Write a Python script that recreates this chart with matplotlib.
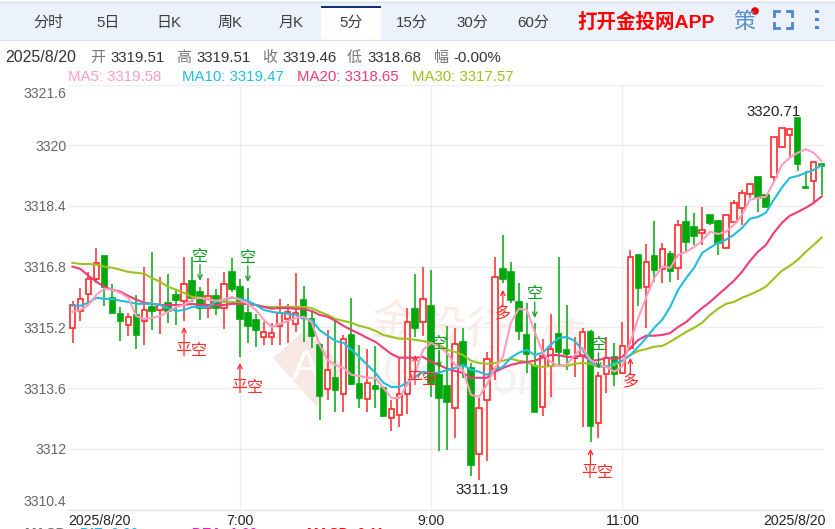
import matplotlib
matplotlib.use("Agg")
import matplotlib.pyplot as plt
from matplotlib.patches import Rectangle, Polygon, Circle
from matplotlib.transforms import ScaledTranslation

plt.rcParams['font.family'] = ['Liberation Sans', 'Noto Sans CJK SC', 'DejaVu Sans']

# 5 minute bars
opens = [3315.19, 3315.63, 3316.08, 3316.48, 3317.08, 3315.98, 3315.56, 3315.27, 3315.53, 3315.37,
         3315.74, 3315.66, 3315.85, 3316.06, 3315.90, 3316.43, 3316.14, 3315.71, 3316.03, 3315.71,
         3316.66, 3316.27, 3315.58, 3315.40, 3314.95, 3314.95, 3315.24, 3315.42, 3315.29, 3315.93,
         3315.42, 3314.74, 3313.58, 3313.87, 3313.45, 3315.00, 3313.71, 3313.32, 3313.66, 3313.61,
         3312.82, 3312.90, 3313.45, 3315.69, 3315.34, 3315.77, 3313.95, 3313.66, 3313.08, 3314.82,
         3314.13, 3311.87, 3313.29, 3314.11, 3316.74, 3316.66, 3315.87, 3315.00, 3314.18, 3313.11,
         3314.18, 3315.03, 3314.61, 3314.39, 3314.45, 3315.08, 3312.68, 3313.97, 3314.42, 3314.00,
         3314.66, 3317.11, 3316.27, 3317.08, 3316.74, 3317.14, 3316.77, 3317.98, 3317.85, 3317.69,
         3318.16, 3318.01, 3317.30, 3317.98, 3318.35, 3318.72, 3319.17, 3318.69, 3319.17, 3319.96,
         3320.27, 3320.71, 3318.90, 3319.06, 3319.51]
closes = [3315.79, 3315.95, 3316.48, 3316.90, 3316.27, 3315.58, 3315.37, 3315.48, 3315.00, 3315.66,
          3315.63, 3315.79, 3315.63, 3315.93, 3316.35, 3315.98, 3315.71, 3316.03, 3315.71, 3316.35,
          3316.22, 3315.42, 3315.24, 3315.13, 3315.08, 3315.05, 3315.58, 3315.61, 3315.58, 3315.48,
          3314.98, 3313.39, 3314.08, 3313.55, 3314.90, 3313.71, 3313.34, 3313.74, 3313.58, 3312.87,
          3313.05, 3313.45, 3315.34, 3315.19, 3315.95, 3313.74, 3313.34, 3313.24, 3314.76, 3314.21,
          3311.58, 3313.08, 3314.37, 3316.53, 3316.48, 3315.93, 3315.11, 3314.50, 3312.97, 3314.45,
          3314.63, 3314.55, 3314.50, 3314.42, 3315.08, 3312.60, 3313.92, 3314.40, 3313.97, 3314.71,
          3317.05, 3316.24, 3316.93, 3316.72, 3317.27, 3316.69, 3317.90, 3317.45, 3317.61, 3317.77,
          3317.95, 3317.43, 3318.16, 3318.48, 3318.74, 3318.98, 3318.61, 3318.38, 3320.22, 3320.46,
          3320.43, 3319.51, 3318.88, 3319.56, 3319.46]
highs = [3315.90, 3316.24, 3316.66, 3317.30, 3317.08, 3316.35, 3315.74, 3315.58, 3316.06, 3316.80,
         3317.19, 3316.53, 3316.61, 3316.19, 3317.05, 3317.05, 3316.27, 3316.50, 3316.22, 3316.66,
         3317.03, 3316.48, 3316.24, 3315.56, 3315.34, 3315.32, 3315.95, 3315.82, 3316.64, 3316.29,
         3315.66, 3314.79, 3315.13, 3315.45, 3315.00, 3315.98, 3314.74, 3314.63, 3314.71, 3313.63,
         3313.29, 3314.40, 3315.71, 3316.61, 3316.80, 3316.72, 3314.61, 3315.24, 3315.19, 3315.19,
         3314.26, 3313.34, 3314.55, 3317.05, 3317.64, 3316.93, 3316.37, 3315.85, 3315.32, 3314.90,
         3315.56, 3317.05, 3315.79, 3314.95, 3315.19, 3315.13, 3314.03, 3314.95, 3314.79, 3315.34,
         3317.24, 3317.11, 3317.40, 3318.00, 3317.43, 3317.22, 3318.03, 3318.40, 3318.22, 3318.38,
         3318.16, 3318.03, 3318.16, 3318.56, 3318.82, 3318.98, 3319.17, 3318.69, 3320.22, 3320.46,
         3320.43, 3320.71, 3319.32, 3319.56, 3319.51]
lows = [3314.79, 3315.37, 3315.79, 3316.37, 3315.77, 3315.58, 3314.84, 3314.98, 3314.63, 3314.74,
        3315.13, 3315.03, 3315.32, 3315.27, 3315.37, 3315.87, 3315.40, 3315.45, 3315.53, 3315.16,
        3316.14, 3314.42, 3314.79, 3314.69, 3314.74, 3314.74, 3314.74, 3314.79, 3315.08, 3314.82,
        3314.66, 3312.76, 3313.29, 3312.97, 3312.97, 3313.69, 3313.08, 3312.97, 3313.08, 3312.84,
        3312.47, 3312.58, 3312.92, 3314.95, 3314.98, 3313.37, 3311.95, 3311.97, 3312.29, 3313.87,
        3311.29, 3311.19, 3311.68, 3313.82, 3316.37, 3315.85, 3314.87, 3314.00, 3312.97, 3312.87,
        3313.37, 3314.21, 3314.08, 3313.90, 3312.58, 3312.18, 3312.29, 3313.47, 3313.66, 3313.97,
        3314.61, 3315.77, 3315.19, 3316.40, 3316.37, 3316.40, 3316.45, 3317.19, 3317.37, 3317.37,
        3317.90, 3317.11, 3317.30, 3317.98, 3317.90, 3318.61, 3318.24, 3318.38, 3319.06, 3319.93,
        3319.67, 3319.32, 3318.88, 3318.48, 3318.68]

ma5 = [3315.61, 3315.66, 3315.79, 3316.06, 3316.22, 3316.19, 3316.11, 3315.98, 3315.50, 3315.42,
       3315.45, 3315.50, 3315.61, 3315.74, 3315.79, 3315.93, 3315.98, 3315.93, 3315.90, 3315.93,
       3316.00, 3315.93, 3315.82, 3315.66, 3315.40, 3315.21, 3315.29, 3315.37, 3315.45, 3315.48,
       3315.34, 3314.74, 3314.34, 3314.21, 3314.13, 3313.95, 3313.92, 3313.87, 3313.87, 3313.61,
       3313.34, 3313.34, 3313.69, 3314.00, 3314.61, 3314.79, 3314.69, 3314.53, 3314.21, 3314.08,
       3313.42, 3313.37, 3313.69, 3314.13, 3314.42, 3315.32, 3315.69, 3315.66, 3315.08, 3314.53,
       3314.29, 3314.18, 3314.21, 3314.47, 3314.66, 3314.34, 3314.21, 3314.16, 3314.03, 3314.18,
       3314.82, 3315.45, 3316.00, 3316.50, 3316.80, 3316.77, 3317.11, 3317.19, 3317.32, 3317.48,
       3317.72, 3317.66, 3317.72, 3317.90, 3318.16, 3318.56, 3318.61, 3318.64, 3319.03, 3319.48,
       3319.67, 3319.80, 3319.90, 3319.80, 3319.58]
ma10 = [3315.77, 3315.77, 3315.85, 3315.98, 3315.95, 3315.95, 3315.90, 3315.87, 3315.82, 3315.82,
        3315.82, 3315.79, 3315.71, 3315.63, 3315.66, 3315.74, 3315.74, 3315.74, 3315.87, 3315.93,
        3315.98, 3315.95, 3315.90, 3315.79, 3315.66, 3315.61, 3315.58, 3315.56, 3315.53, 3315.42,
        3315.40, 3315.13, 3314.98, 3314.84, 3314.79, 3314.61, 3314.42, 3314.21, 3314.00, 3313.74,
        3313.63, 3313.63, 3313.74, 3313.90, 3314.03, 3314.00, 3314.00, 3314.08, 3314.13, 3314.21,
        3314.08, 3314.03, 3313.95, 3314.08, 3314.16, 3314.40, 3314.53, 3314.61, 3314.47, 3314.53,
        3314.74, 3314.92, 3314.95, 3314.84, 3314.61, 3314.29, 3314.18, 3314.16, 3314.26, 3314.32,
        3314.47, 3314.69, 3314.92, 3315.19, 3315.40, 3315.74, 3316.19, 3316.50, 3316.77, 3317.16,
        3317.30, 3317.43, 3317.51, 3317.64, 3317.82, 3318.06, 3318.11, 3318.22, 3318.56, 3318.88,
        3319.14, 3319.19, 3319.27, 3319.35, 3319.47]
ma20 = [3316.80, 3316.74, 3316.56, 3316.40, 3316.27, 3316.19, 3316.14, 3316.03, 3315.93, 3315.85,
        3315.82, 3315.79, 3315.79, 3315.79, 3315.79, 3315.82, 3315.79, 3315.79, 3315.79, 3315.79,
        3315.82, 3315.82, 3315.82, 3315.79, 3315.74, 3315.69, 3315.71, 3315.71, 3315.69, 3315.69,
        3315.63, 3315.53, 3315.48, 3315.37, 3315.24, 3315.13, 3315.03, 3314.92, 3314.82, 3314.66,
        3314.50, 3314.40, 3314.40, 3314.40, 3314.42, 3314.29, 3314.21, 3314.11, 3314.05, 3314.00,
        3313.87, 3313.87, 3313.87, 3314.03, 3314.13, 3314.21, 3314.26, 3314.29, 3314.32, 3314.40,
        3314.47, 3314.47, 3314.42, 3314.42, 3314.47, 3314.32, 3314.34, 3314.40, 3314.37, 3314.42,
        3314.66, 3314.87, 3314.98, 3314.98, 3315.00, 3315.05, 3315.21, 3315.34, 3315.53, 3315.71,
        3315.87, 3316.06, 3316.24, 3316.43, 3316.66, 3316.95, 3317.19, 3317.37, 3317.69, 3317.95,
        3318.14, 3318.24, 3318.35, 3318.48, 3318.65]
ma30 = [3316.90, 3316.87, 3316.87, 3316.85, 3316.80, 3316.77, 3316.72, 3316.66, 3316.64, 3316.61,
        3316.50, 3316.40, 3316.27, 3316.19, 3316.11, 3316.00, 3315.98, 3315.95, 3315.90, 3315.87,
        3315.87, 3315.85, 3315.82, 3315.79, 3315.74, 3315.74, 3315.74, 3315.74, 3315.74, 3315.74,
        3315.71, 3315.61, 3315.53, 3315.42, 3315.37, 3315.32, 3315.24, 3315.19, 3315.11, 3315.00,
        3314.95, 3314.90, 3314.90, 3314.87, 3314.84, 3314.79, 3314.74, 3314.61, 3314.55, 3314.47,
        3314.32, 3314.26, 3314.24, 3314.26, 3314.32, 3314.37, 3314.32, 3314.29, 3314.18, 3314.16,
        3314.18, 3314.21, 3314.18, 3314.24, 3314.26, 3314.24, 3314.16, 3314.18, 3314.21, 3314.32,
        3314.47, 3314.58, 3314.63, 3314.69, 3314.71, 3314.82, 3314.95, 3315.08, 3315.19, 3315.32,
        3315.53, 3315.69, 3315.82, 3315.87, 3315.98, 3316.06, 3316.16, 3316.27, 3316.48, 3316.69,
        3316.82, 3316.98, 3317.19, 3317.37, 3317.57]

y_ticks = [3321.6, 3320, 3318.4, 3316.8, 3315.2, 3313.6, 3312, 3310.4]
y_labels = ['3321.6', '3320', '3318.4', '3316.8', '3315.2', '3313.6', '3312', '3310.4']
x_ticks = [21, 45, 69]
x_labels = ['7:00', '9:00', '11:00']

short_idx = [16, 22, 46, 58, 66]
short_px = [3316.43, 3316.40, 3314.13, 3315.45, 3314.11]
cover_idx = [14, 21, 43, 65]
cover_px = [3315.21, 3314.26, 3314.47, 3312.00]
long_idx = [54, 70]
long_px = [3316.19, 3314.40]

tabs = ['分时', '5日', '日K', '周K', '月K', '5分', '15分', '30分', '60分']
tab_x = [48, 108, 169, 230, 291, 351, 412, 472, 533]

RED = '#FF2A2A'
GREEN = '#00A80C'
ma_colors = ['#FF9DBE', '#22BEDC', '#F03A7A', '#9CC21E']
px = 0.72  # font size for 1 px at dpi 100

fig = plt.figure(figsize=(8.35, 5.29), dpi=100)

# page chrome, in pixel coordinates
bg = fig.add_axes([0, 0, 1, 1], zorder=0)
bg.set_xlim(0, 835)
bg.set_ylim(529, 0)
bg.axis('off')

bg.add_patch(Rectangle((0, 1), 835, 39, fc='#EBF2FC', ec='none'))
bg.plot([0, 835], [1.5, 1.5], color='#DDE5EF', lw=1)
bg.plot([0, 835], [40, 40], color='#D8E2EE', lw=1)
bg.add_patch(Rectangle((321, 7), 60, 34, fc='white', ec='none'))
bg.add_patch(Rectangle((321, 6), 60, 2, fc='#0F2D82', ec='none'))
for name, x in zip(tabs, tab_x):
    bg.text(x, 23, name, ha='center', va='center', fontsize=15 * px, color='#3C3C3C')
bg.text(577, 22, '打开金投网APP', ha='left', va='center', fontsize=19.5 * px, color='#FF0000', fontweight='bold')
bg.text(744, 22, '策', ha='center', va='center', fontsize=22 * px, color='#5B8FD0')
bg.add_patch(Circle((755, 11), 3.8, fc='#F00000', ec='none'))
for x0, sx in [(774, 1), (792, -1)]:
    for y0, sy in [(11, 1), (28, -1)]:
        bg.plot([x0 + 5 * sx, x0, x0], [y0, y0, y0 + 5 * sy], color='#4A86D8', lw=2, solid_joinstyle='miter')
for y0 in [11, 19, 27]:
    bg.add_patch(Rectangle((815, y0 - 1.5), 3.5, 3.5, fc='#4A86D8', ec='none'))

info = [(5, '2025/8/20', '#333333', 16), (90, '开', '#777777', 15), (110, '3319.51', '#333333', 15),
        (176, '高', '#777777', 15), (196, '3319.51', '#333333', 15), (262, '收', '#777777', 15),
        (282, '3319.46', '#333333', 15), (347, '低', '#777777', 15), (367, '3318.68', '#333333', 15),
        (434, '幅', '#777777', 15), (453, '-0.00%', '#333333', 15)]
for x, s, c, size in info:
    bg.text(x, 58, s, ha='left', va='center', fontsize=size * px, color=c)

legend_x = [68, 182, 297, 412]
legend_names = ['MA5', 'MA10', 'MA20', 'MA30']
for x, name, vals, c in zip(legend_x, legend_names, [ma5, ma10, ma20, ma30], ma_colors):
    bg.text(x, 77, f'{name}: {vals[-1]:.2f}', ha='left', va='center', fontsize=15 * px, color=c)

# watermark behind the plot
bg.add_patch(Polygon([(273, 358), (305, 330), (345, 368), (317, 407)], fc='#F8E8E4', ec='none'))
bg.text(306, 368, 'A', ha='center', va='center', fontsize=42 * px, color='white')
for x, y, s in [(393, 325, '金'), (443, 330, '投'), (487, 333, '行'), (563, 343, '情')]:
    bg.text(x, y, s, ha='center', va='center', fontsize=44 * px, color='#FAEBE7', rotation=-6)
bg.text(355, 378, 'uGold.org', ha='left', va='center', fontsize=46 * px, color='#F2F2F2', rotation=-4)

# cut off by the bottom edge of the page
bottom = [(24, 'MACD', '#777777'), (80, 'DIF: 0.00', '#18B8F0'), (192, 'DEA: 1.00', '#E818C8'), (307, 'MACD: 0.11', '#F01010')]
for x, s, c in bottom:
    bg.text(x, 526.5, s, ha='left', va='top', fontsize=14 * px, color=c, fontweight='bold')

# main chart, left/top/width/height from the 835x529 picture
ax = fig.add_axes([68 / 835, (529 - 509.5) / 529, 755 / 835, 425 / 529], zorder=1)
ax.patch.set_alpha(0)
ax.set_xlim(-0.565, 94.17)
ax.set_ylim(3310.4, 3321.6)
for s in ['top', 'left', 'right']:
    ax.spines[s].set_visible(False)
ax.spines['bottom'].set_color('#E4E4E4')
ax.set_yticks(y_ticks)
ax.set_yticklabels(y_labels, fontsize=14 * px, color='#666666')
ax.set_xticks(x_ticks)
ax.set_xticklabels(x_labels, fontsize=14 * px, color='#222222')
ax.tick_params(axis='both', length=0)
ax.tick_params(axis='y', pad=1)
ax.tick_params(axis='x', pad=3)
# end labels stay inside the plot height
top_label = ax.get_yticklabels()[0]
top_label.set_va('top')
top_label.set_transform(top_label.get_transform() + ScaledTranslation(0, -3 / 100, fig.dpi_scale_trans))
ax.get_yticklabels()[-1].set_va('bottom')
ax.grid(True, color='#EEEEEE', lw=1)
ax.set_axisbelow(True)
ax.text(0, -0.0095, '2025/8/20', transform=ax.transAxes, ha='left', va='top', fontsize=14 * px, color='#222222')
ax.text(1.003, -0.0095, '2025/8/20', transform=ax.transAxes, ha='right', va='top', fontsize=14 * px, color='#222222')

for i in range(len(opens)):
    up = closes[i] >= opens[i]
    c = RED if up else GREEN
    ax.vlines(i, lows[i], highs[i], color=c, lw=1.1, zorder=2, clip_on=False)
    body_lo = min(opens[i], closes[i])
    body_h = abs(closes[i] - opens[i])
    ax.bar(i, body_h, bottom=body_lo, width=0.68, facecolor='white' if up else c, edgecolor=c,
           lw=1.2, zorder=2, clip_on=False)

for vals, c in zip([ma30, ma20, ma10, ma5], [ma_colors[3], ma_colors[2], ma_colors[1], ma_colors[0]]):
    ax.plot(range(len(vals)), vals, color=c, lw=1.5, zorder=3, clip_on=False, solid_joinstyle='round')


def signal(i, price, label, color, down, text_dx=0):
    # arrow tip sits on the price, label beyond the tail
    sign = 1 if down else -1
    ax.annotate('', xy=(i, price), xytext=(0, sign * 16 * px), textcoords='offset points', zorder=4,
                arrowprops=dict(arrowstyle='->', color=color, lw=0.9, shrinkA=0, shrinkB=0, mutation_scale=8))
    ax.annotate(label, xy=(i, price), xytext=(text_dx * px, sign * 24 * px), textcoords='offset points',
                ha='center', va='center', fontsize=16 * px, color=color, zorder=4)


for i, p in zip(short_idx, short_px):
    signal(i, p, '空', '#119922', True)
for i, p in zip(cover_idx, cover_px):
    signal(i, p, '平空', RED, False, text_dx=7)
for i, p in zip(long_idx, long_px):
    signal(i, p, '多', RED, False)

top = highs.index(max(highs))
low = lows.index(min(lows))
ax.annotate(f'{highs[top]:.2f}', xy=(top, highs[top]), xytext=(-24 * px, 6 * px), textcoords='offset points',
            ha='center', va='center', fontsize=15 * px, color='#222222', zorder=5)
ax.annotate(f'{lows[low]:.2f}', xy=(low, lows[low]), xytext=(3 * px, -10 * px), textcoords='offset points',
            ha='center', va='center', fontsize=15 * px, color='#222222', zorder=5)

fig.savefig('out.png', dpi=100)
